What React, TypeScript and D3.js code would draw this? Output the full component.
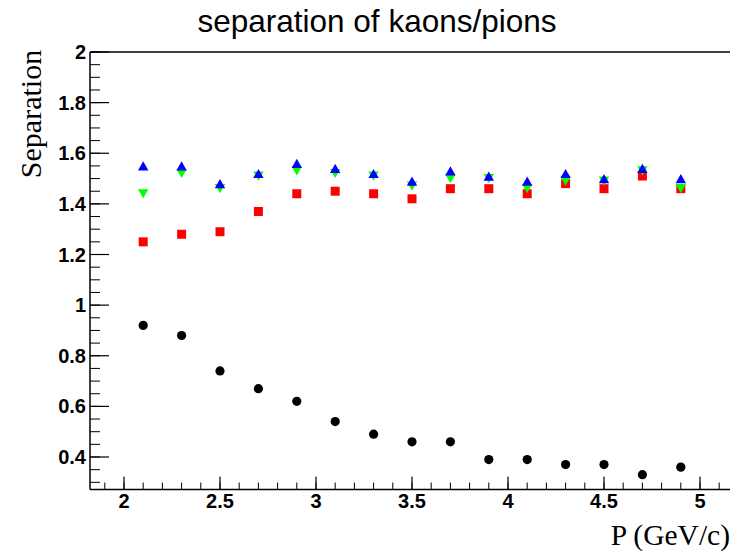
import React from "react";
import * as d3 from "d3";

// Momentum bins (GeV/c)
const momentum = [2.1, 2.3, 2.5, 2.7, 2.9, 3.1, 3.3, 3.5, 3.7, 3.9, 4.1, 4.3, 4.5, 4.7, 4.9];

// Kaon/pion separation for four configurations
const sepBlack = [0.92, 0.88, 0.74, 0.67, 0.62, 0.54, 0.49, 0.46, 0.46, 0.39, 0.39, 0.37, 0.37, 0.33, 0.36];
const sepRed = [1.25, 1.28, 1.29, 1.37, 1.44, 1.45, 1.44, 1.42, 1.46, 1.46, 1.44, 1.48, 1.46, 1.51, 1.46];
const sepGreen = [1.44, 1.52, 1.46, 1.51, 1.53, 1.52, 1.51, 1.47, 1.5, 1.5, 1.46, 1.49, 1.49, 1.53, 1.46];
const sepBlue = [1.55, 1.55, 1.48, 1.52, 1.56, 1.54, 1.52, 1.49, 1.53, 1.51, 1.49, 1.52, 1.5, 1.54, 1.5];

const xMajorTicks = [2, 2.5, 3, 3.5, 4, 4.5, 5];
const yMajorTicks = [0.4, 0.6, 0.8, 1.0, 1.2, 1.4, 1.6, 1.8, 2.0];

const W = 730;
const H = 556;

export default function App() {
  const x = d3.scaleLinear().domain([2, 5]).range([124, 700]);
  const y = d3.scaleLinear().domain([0.4, 2]).range([457, 52]);

  const left = 90;
  const top = 52;
  const bottom = 489.5;
  const right = 760;

  const xMinor = d3.range(19, 52).map((v) => v / 10).filter((v) => x(v) >= left && x(v) <= W);
  const yMinor = d3.range(6, 41).map((v) => v / 20).filter((v) => y(v) <= bottom && y(v) >= top);

  const fmtY = (v: number) => (v === 1 ? "1" : v === 2 ? "2" : v.toFixed(1));
  const fmtX = (v: number) => (Number.isInteger(v) ? String(v) : v.toFixed(1));

  const sq = 4.5;
  const tw = 5.2;
  const th = 4.6;

  return (
    <svg
      width={W}
      height={H}
      style={{ position: "absolute", left: 0, top: 0, background: "#fff" }}
      fontFamily="'Liberation Sans', Arial, sans-serif"
    >
      <rect x={0} y={0} width={W} height={H} fill="#fff" />
      {/* title */}
      <text x={377} y={32} fontSize={31.5} textAnchor="middle" fill="#000">
        separation of kaons/pions
      </text>

      {/* frame */}
      <line x1={left} x2={right} y1={top} y2={top} stroke="#000" strokeWidth={1.5} />
      <line x1={left} x2={right} y1={bottom} y2={bottom} stroke="#000" strokeWidth={1.5} />
      <line x1={left} x2={left} y1={top} y2={bottom} stroke="#000" strokeWidth={1.5} />

      {/* y axis ticks */}
      {yMinor.map((v) => (
        <line key={"ym" + v} x1={left} x2={left + 10} y1={y(v)} y2={y(v)} stroke="#000" strokeWidth={1} />
      ))}
      {yMajorTicks.map((v) => (
        <g key={"yM" + v}>
          <line x1={left} x2={left + 19} y1={y(v)} y2={y(v)} stroke="#000" strokeWidth={1.2} />
          <text x={86} y={y(v) + 7} fontSize={20} fontWeight="bold" textAnchor="end">
            {fmtY(v)}
          </text>
        </g>
      ))}

      {/* x axis ticks */}
      {xMinor.map((v) => (
        <line key={"xm" + v} x1={x(v)} x2={x(v)} y1={bottom} y2={bottom - 7} stroke="#000" strokeWidth={1} />
      ))}
      {xMajorTicks.map((v) => (
        <g key={"xM" + v}>
          <line x1={x(v)} x2={x(v)} y1={bottom} y2={bottom - 13} stroke="#000" strokeWidth={1.2} />
          <text x={x(v)} y={508} fontSize={20} fontWeight="bold" textAnchor="middle">
            {fmtX(v)}
          </text>
        </g>
      ))}

      {/* axis titles */}
      <text
        x={0}
        y={0}
        transform={`translate(41,114) rotate(-90)`}
        fontSize={30}
        fontFamily="'Liberation Serif', 'Times New Roman', serif"
        textAnchor="middle"
      >
        Separation
      </text>
      <text
        x={730}
        y={545}
        fontSize={29.5}
        fontFamily="'Liberation Serif', 'Times New Roman', serif"
        textAnchor="end"
      >
        P (GeV/c)
      </text>

      {/* red squares */}
      {momentum.map((m, i) => (
        <rect key={"r" + i} x={x(m) - sq} y={y(sepRed[i]) - sq} width={2 * sq} height={2 * sq} fill="#ff0000" />
      ))}
      {/* green down triangles */}
      {momentum.map((m, i) => {
        const cx = x(m);
        const cy = y(sepGreen[i]);
        return (
          <path
            key={"g" + i}
            d={`M${cx - tw},${cy - th}L${cx + tw},${cy - th}L${cx},${cy + th}Z`}
            fill="#00ff00"
          />
        );
      })}
      {/* blue up triangles */}
      {momentum.map((m, i) => {
        const cx = x(m);
        const cy = y(sepBlue[i]);
        return (
          <path
            key={"b" + i}
            d={`M${cx - tw},${cy + th}L${cx + tw},${cy + th}L${cx},${cy - th}Z`}
            fill="#0000ff"
          />
        );
      })}
      {/* black circles */}
      {momentum.map((m, i) => (
        <circle key={"k" + i} cx={x(m)} cy={y(sepBlack[i])} r={4.6} fill="#000" />
      ))}
    </svg>
  );
}
